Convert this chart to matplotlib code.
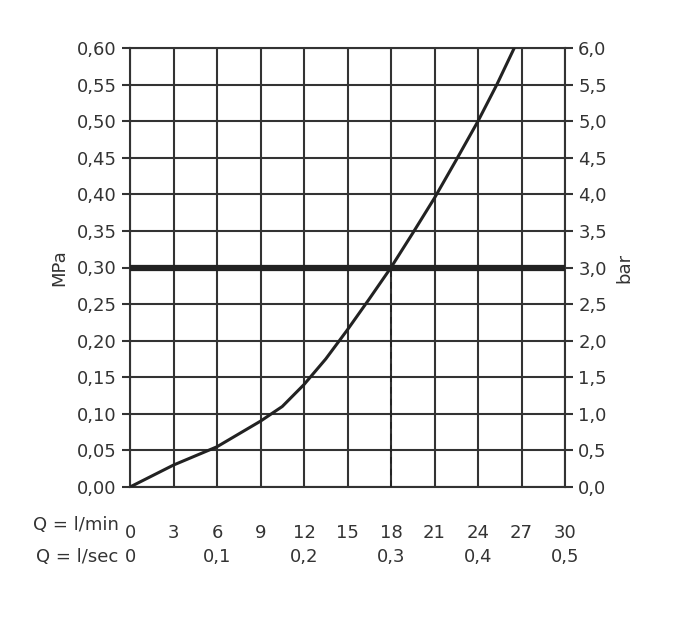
import matplotlib
matplotlib.use("Agg")
import matplotlib.pyplot as plt
import numpy as np

q_lmin = [0, 3, 6, 9, 10.5, 12, 13.5, 15, 16.5, 18, 19.5, 21, 22.5, 24, 25.3, 26.5]
p_mpa = [0, 0.03, 0.055, 0.09, 0.11, 0.14, 0.175, 0.215, 0.257, 0.30, 0.347, 0.395, 0.447, 0.50, 0.55, 0.60]
xticks_min = [0, 3, 6, 9, 12, 15, 18, 21, 24, 27, 30]
xticks_sec = ["0", "0,1", "0,2", "0,3", "0,4", "0,5"]
yticks = [round(0.05 * i, 2) for i in range(13)]
ref_p = 0.30
ref_q = 18

plt.rcParams['font.family'] = ['DejaVu Sans']
fig = plt.figure(figsize=(6.78, 6.30), dpi=100)
ax = fig.add_axes([130/678, 1-487/630, 435/678, 439/630])
col = '#333333'
ax.set_xlim(0, 30); ax.set_ylim(0, 0.6)
ax.set_xticks(xticks_min)
ax.set_yticks(yticks)
ax.grid(True, color=col, lw=1.5)
ax.plot(q_lmin, p_mpa, color='#222222', lw=2.2, zorder=3)
ax.axhline(ref_p, color='#222222', lw=4.5, zorder=4)
ax.plot([ref_q, ref_q], [0, ref_p], color='#222222', lw=1.2, ls=(0, (4, 3)), zorder=3)
for s in ax.spines.values():
    s.set_color(col); s.set_linewidth(1.5)
ax.set_yticklabels([f"{v:.2f}".replace('.', ',') for v in yticks], fontsize=13, color=col)
ax.set_xticklabels([str(v) for v in xticks_min], fontsize=13, color=col)
ax.tick_params(axis='x', length=0, pad=27)
ax.tick_params(axis='y', direction='out', length=6, color=col, width=1.5)
ax.set_ylabel('MPa', fontsize=13, color=col, labelpad=6)
ax2 = ax.twinx()
ax2.set_ylim(0, 6)
ax2.set_yticks([v * 10 for v in yticks])
ax2.set_yticklabels([f"{v*10:.1f}".replace('.', ',') for v in yticks], fontsize=13, color=col)
ax2.tick_params(axis='y', direction='out', length=6, color=col, width=1.5)
ax2.set_ylabel('bar', fontsize=13, color=col, labelpad=6)
for s in ax2.spines.values():
    s.set_visible(False)
for i, lab in enumerate(xticks_sec):
    ax.text(i * 6, -0.095, lab, ha='center', va='center', fontsize=13, color=col,
            transform=ax.transData, clip_on=False)
ax.text(-0.8, -0.052, 'Q = l/min', ha='right', va='center', fontsize=13, color=col, clip_on=False)
ax.text(-0.8, -0.095, 'Q = l/sec', ha='right', va='center', fontsize=13, color=col, clip_on=False)
fig.savefig('out.png', dpi=100)
